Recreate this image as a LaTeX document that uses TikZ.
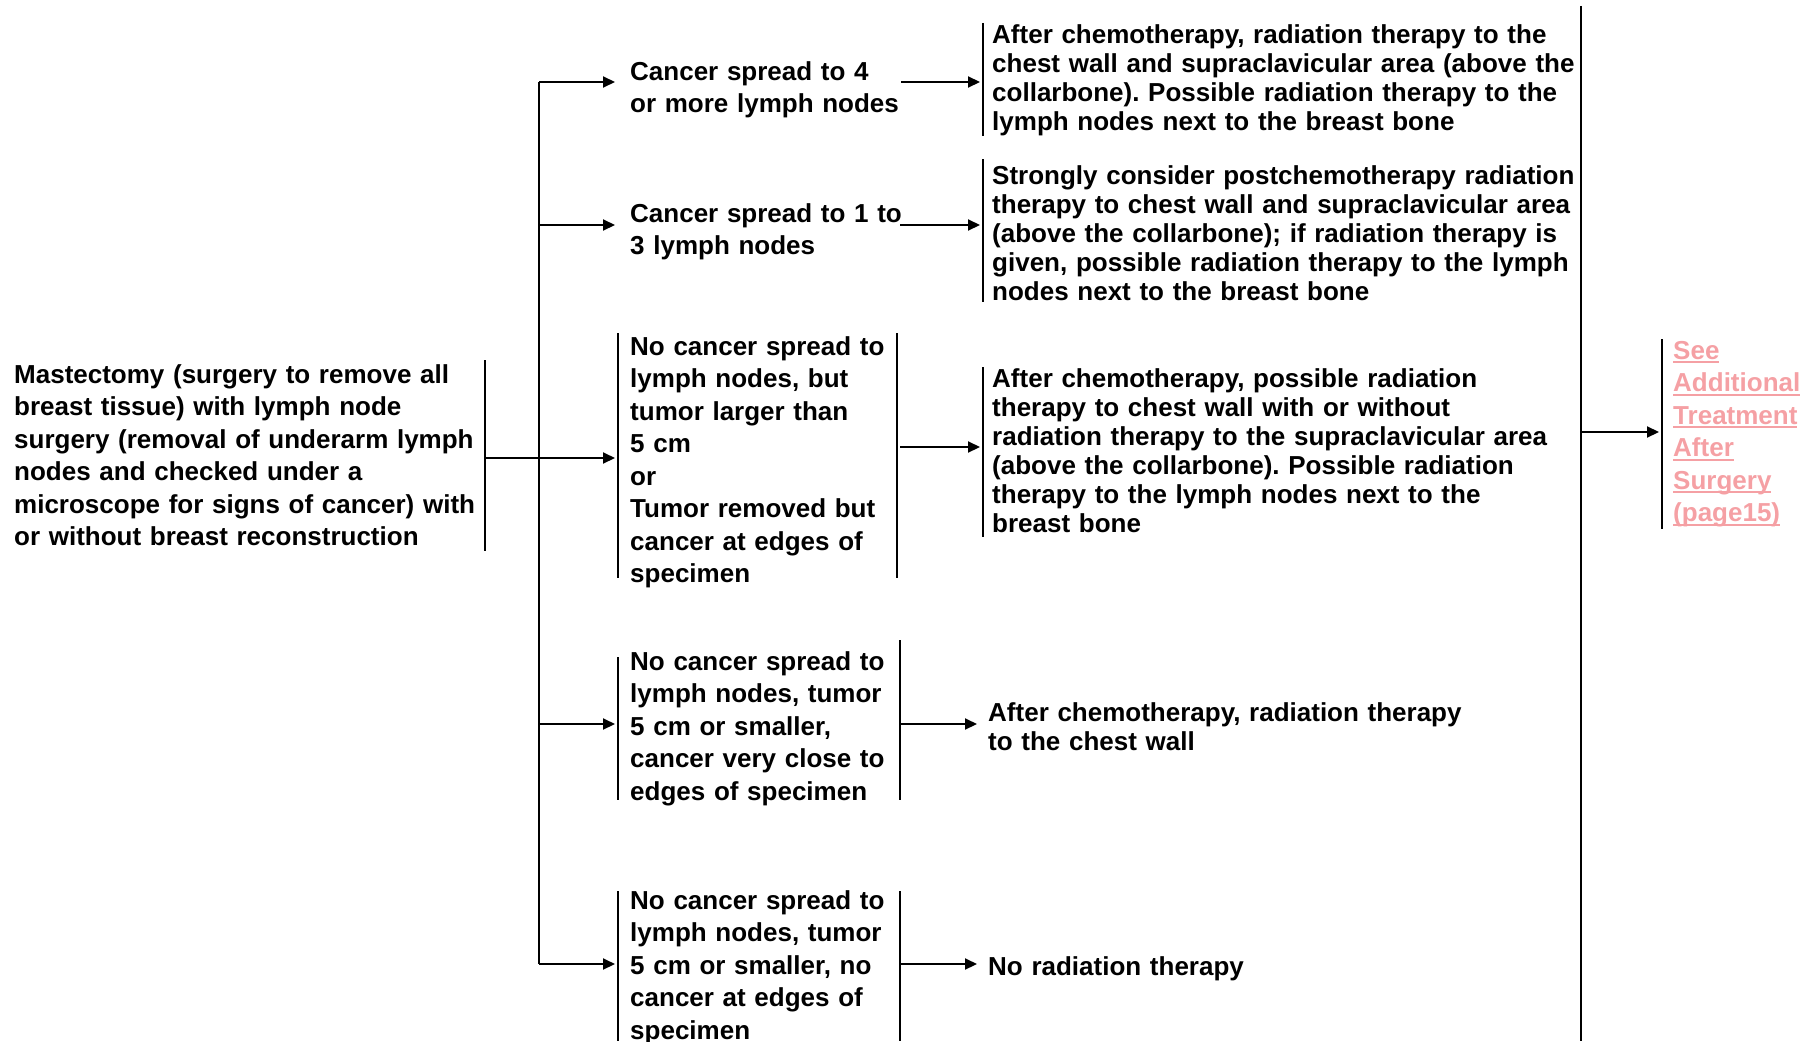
\documentclass[tikz,border=0pt]{standalone}
\usepackage{fontspec}
\setmainfont{Liberation Sans}
\usetikzlibrary{arrows.meta}
\definecolor{linkpink}{RGB}{245,160,164}
\newcommand\ulw[1]{\leavevmode\setbox0\hbox{#1}\rlap{\rule[-4pt]{\wd0}{1.6pt}}\box0}
\frenchspacing
\begin{document}
\begin{tikzpicture}[x=1pt,y=-1pt,
  txt/.style={anchor=base west,inner sep=0pt,align=left,text width=640pt,font=\bfseries\fontsize{26}{32.5}\selectfont\frenchspacing},
  txtc/.style={txt,font=\bfseries\fontsize{26}{29}\selectfont\frenchspacing},
  bar/.style={line width=2pt},
  arr/.style={line width=2pt,shorten >=3pt,-{Triangle[length=12pt,width=11pt]}}]
\useasboundingbox (0,0) rectangle (1819,1041);
% main text
\node[txt] (main) at (14,383) {Mastectomy (surgery to remove all\\breast tissue) with lymph node\\surgery (removal of underarm lymph\\nodes and checked under a\\microscope for signs of cancer) with\\or without breast reconstruction};
\coordinate (mbt) at (485,360); \coordinate (mbb) at (485,551);
\coordinate (mbo) at (485,458);
\draw[bar] (mbt) -- (mbb);
% trunk
\coordinate (tr1) at (539,82); \coordinate (tr2) at (539,225);
\coordinate (tr4) at (539,724); \coordinate (tr5) at (539,964);
\draw[bar] (tr1) -- (tr5);
% column 2
\node[txt] (c1) at (630,80) {Cancer spread to 4\\or more lymph nodes};
\node[txt] (c2) at (630,222) {Cancer spread to 1 to\\3 lymph nodes};
\node[txt] (c3) at (630,355) {No cancer spread to\\lymph nodes, but\\tumor larger than\\5 cm\\or\\Tumor removed but\\cancer at edges of\\specimen};
\node[txt] (c4) at (630,670) {No cancer spread to\\lymph nodes, tumor\\5 cm or smaller,\\cancer very close to\\edges of specimen};
\node[txt] (c5) at (630,909) {No cancer spread to\\lymph nodes, tumor\\5 cm or smaller, no\\cancer at edges of\\specimen};
\coordinate (c1in) at (618,82); \coordinate (c2in) at (618,225);
\coordinate (c3lt) at (618,333); \coordinate (c3lb) at (618,578);
\coordinate (c3rt) at (897,333); \coordinate (c3rb) at (897,578);
\coordinate (c4lt) at (618,657); \coordinate (c4lb) at (618,800);
\coordinate (c4rt) at (900,640); \coordinate (c4rb) at (900,800);
\coordinate (c5lt) at (618,891); \coordinate (c5lb) at (618,1041);
\coordinate (c5rt) at (900,891); \coordinate (c5rb) at (900,1041);
\draw[bar] (c3lt) -- (c3lb); \draw[bar] (c3rt) -- (c3rb);
\draw[bar] (c4lt) -- (c4lb); \draw[bar] (c4rt) -- (c4rb);
\draw[bar] (c5lt) -- (c5lb); \draw[bar] (c5rt) -- (c5rb);
\draw[arr] (tr1) -- (c1in);
\draw[arr] (tr2) -- (c2in);
\draw[arr] (mbo) -- (mbo -| c3lt);
\draw[arr] (tr4) -- (tr4 -| c4lt);
\draw[arr] (tr5) -- (tr5 -| c5lt);
% column 3
\node[txtc] (r1) at (992,44) {After chemotherapy, radiation therapy to the\\chest wall and supraclavicular area (above the\\collarbone). Possible radiation therapy to the\\lymph nodes next to the breast bone};
\node[txtc] (r2) at (992,184) {Strongly consider postchemotherapy radiation\\therapy to chest wall and supraclavicular area\\(above the collarbone); if radiation therapy is\\given, possible radiation therapy to the lymph\\nodes next to the breast bone};
\node[txtc] (r3) at (992,387) {After chemotherapy, possible radiation\\therapy to chest wall with or without\\radiation therapy to the supraclavicular area\\(above the collarbone). Possible radiation\\therapy to the lymph nodes next to the\\breast bone};
\node[txtc] (r4) at (988,721) {After chemotherapy, radiation therapy\\to the chest wall};
\node[txtc] (r5) at (988,975) {No radiation therapy};
\coordinate (r1t) at (983,23); \coordinate (r1b) at (983,136);
\coordinate (r2t) at (983,159); \coordinate (r2b) at (983,302);
\coordinate (r3t) at (983,367); \coordinate (r3b) at (983,537);
\draw[bar] (r1t) -- (r1b); \draw[bar] (r2t) -- (r2b); \draw[bar] (r3t) -- (r3b);
\coordinate (c1out) at (901,82); \coordinate (c2out) at (900,225);
\coordinate (c3out) at (900,447);
\coordinate (r4in) at (980,724); \coordinate (r5in) at (980,964);
\draw[arr] (c1out) -- (c1out -| r1t);
\draw[arr] (c2out) -- (c2out -| r2t);
\draw[arr] (c3out) -- (c3out -| r3t);
\draw[arr] (tr4 -| c4rt) -- (r4in);
\draw[arr] (tr5 -| c5rt) -- (r5in);
% right trunk and link
\coordinate (rtt) at (1581,6); \coordinate (rtb) at (1581,1041);
\coordinate (rto) at (1581,432);
\draw[bar] (rtt) -- (rtb);
\coordinate (pbt) at (1662,339); \coordinate (pbb) at (1662,529);
\draw[bar] (pbt) -- (pbb);
\draw[arr] (rto) -- (rto -| pbt);
\node[txt,text=linkpink] (link) at (1673,359) {\ulw{See}\\\ulw{Additional}\\\ulw{Treatment}\\\ulw{After}\\\ulw{Surgery}\\\ulw{(page15)}};
\end{tikzpicture}
\end{document}
